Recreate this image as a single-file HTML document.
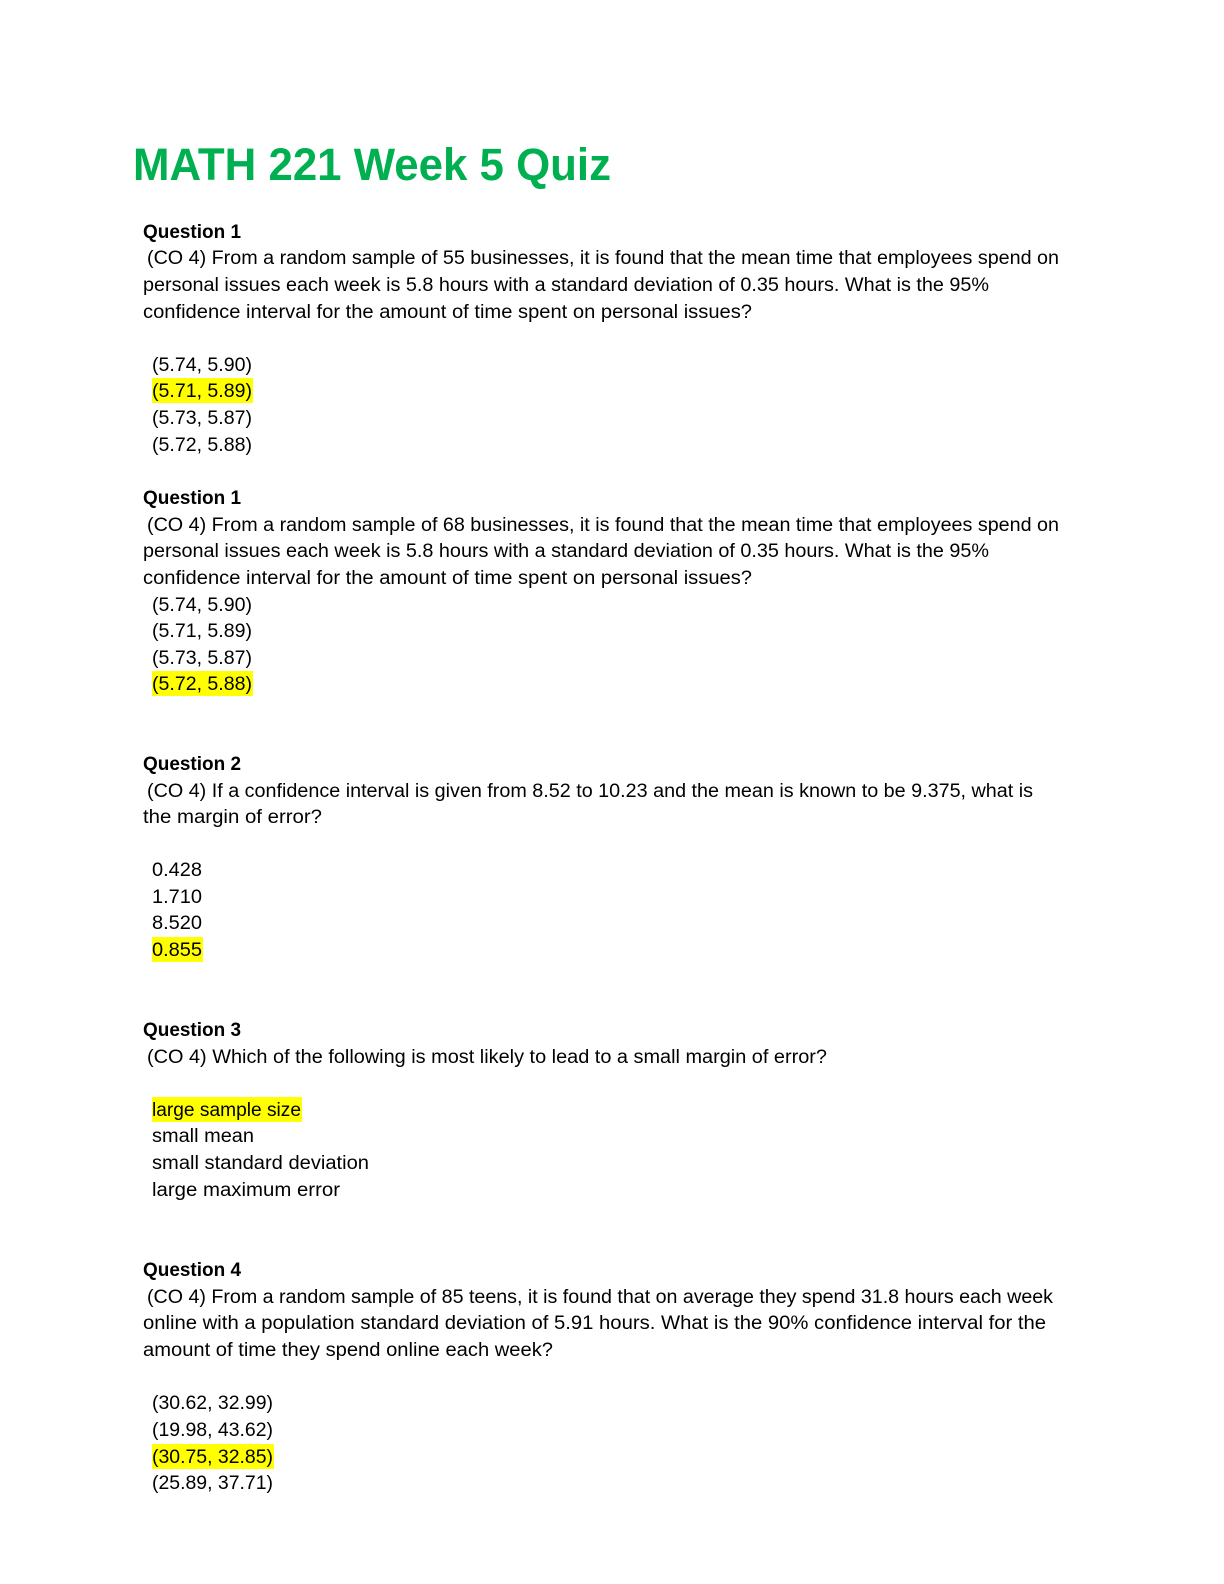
<!DOCTYPE html>
<html><head><meta charset="utf-8"><style>
html,body{margin:0;padding:0;background:#fff;}
svg{display:block;}
text{font-family:"Liberation Sans",sans-serif;font-size:19px;fill:#000;}
.b{font-weight:bold;}
.t{font-size:45px;font-weight:bold;fill:#00b050;}
.h{fill:#ffff00;}
</style></head><body>
<svg width="1224" height="1584" viewBox="0 0 1224 1584" xmlns="http://www.w3.org/2000/svg">
<text class="t" x="133" y="180" textLength="478" lengthAdjust="spacingAndGlyphs">MATH 221 Week 5 Quiz</text>

<rect class="h" x="152" y="378" width="101" height="25"/>
<rect class="h" x="152" y="671" width="101" height="25"/>
<rect class="h" x="152" y="937" width="51" height="25"/>
<rect class="h" x="152" y="1097" width="150" height="25"/>
<rect class="h" x="152" y="1444" width="122" height="25"/>

<text class="b" x="143" y="238" textLength="98" lengthAdjust="spacingAndGlyphs">Question 1</text>
<text x="147" y="264" textLength="912" lengthAdjust="spacingAndGlyphs">(CO 4) From a random sample of 55 businesses, it is found that the mean time that employees spend on</text>
<text x="143" y="291" textLength="846" lengthAdjust="spacingAndGlyphs">personal issues each week is 5.8 hours with a standard deviation of 0.35 hours. What is the 95%</text>
<text x="143" y="318" textLength="609" lengthAdjust="spacingAndGlyphs">confidence interval for the amount of time spent on personal issues?</text>
<text x="152" y="371" textLength="100" lengthAdjust="spacingAndGlyphs">(5.74, 5.90)</text>
<text x="152" y="397" textLength="100" lengthAdjust="spacingAndGlyphs">(5.71, 5.89)</text>
<text x="152" y="424" textLength="100" lengthAdjust="spacingAndGlyphs">(5.73, 5.87)</text>
<text x="152" y="451" textLength="100" lengthAdjust="spacingAndGlyphs">(5.72, 5.88)</text>

<text class="b" x="143" y="504" textLength="98" lengthAdjust="spacingAndGlyphs">Question 1</text>
<text x="147" y="531" textLength="912" lengthAdjust="spacingAndGlyphs">(CO 4) From a random sample of 68 businesses, it is found that the mean time that employees spend on</text>
<text x="143" y="557" textLength="846" lengthAdjust="spacingAndGlyphs">personal issues each week is 5.8 hours with a standard deviation of 0.35 hours. What is the 95%</text>
<text x="143" y="584" textLength="609" lengthAdjust="spacingAndGlyphs">confidence interval for the amount of time spent on personal issues?</text>
<text x="152" y="611" textLength="100" lengthAdjust="spacingAndGlyphs">(5.74, 5.90)</text>
<text x="152" y="637" textLength="100" lengthAdjust="spacingAndGlyphs">(5.71, 5.89)</text>
<text x="152" y="664" textLength="100" lengthAdjust="spacingAndGlyphs">(5.73, 5.87)</text>
<text x="152" y="690" textLength="100" lengthAdjust="spacingAndGlyphs">(5.72, 5.88)</text>

<text class="b" x="143" y="770" textLength="98" lengthAdjust="spacingAndGlyphs">Question 2</text>
<text x="147" y="797" textLength="886" lengthAdjust="spacingAndGlyphs">(CO 4) If a confidence interval is given from 8.52 to 10.23 and the mean is known to be 9.375, what is</text>
<text x="143" y="823" textLength="179" lengthAdjust="spacingAndGlyphs">the margin of error?</text>
<text x="152" y="876" textLength="50" lengthAdjust="spacingAndGlyphs">0.428</text>
<text x="152" y="903" textLength="50" lengthAdjust="spacingAndGlyphs">1.710</text>
<text x="152" y="929" textLength="50" lengthAdjust="spacingAndGlyphs">8.520</text>
<text x="152" y="956" textLength="50" lengthAdjust="spacingAndGlyphs">0.855</text>

<text class="b" x="143" y="1036" textLength="98" lengthAdjust="spacingAndGlyphs">Question 3</text>
<text x="147" y="1063" textLength="680" lengthAdjust="spacingAndGlyphs">(CO 4) Which of the following is most likely to lead to a small margin of error?</text>
<text x="152" y="1116" textLength="149" lengthAdjust="spacingAndGlyphs">large sample size</text>
<text x="152" y="1142" textLength="102" lengthAdjust="spacingAndGlyphs">small mean</text>
<text x="152" y="1169" textLength="217" lengthAdjust="spacingAndGlyphs">small standard deviation</text>
<text x="152" y="1196" textLength="188" lengthAdjust="spacingAndGlyphs">large maximum error</text>

<text class="b" x="143" y="1276" textLength="98" lengthAdjust="spacingAndGlyphs">Question 4</text>
<text x="147" y="1303" textLength="906" lengthAdjust="spacingAndGlyphs">(CO 4) From a random sample of 85 teens, it is found that on average they spend 31.8 hours each week</text>
<text x="143" y="1329" textLength="903" lengthAdjust="spacingAndGlyphs">online with a population standard deviation of 5.91 hours. What is the 90% confidence interval for the</text>
<text x="143" y="1356" textLength="410" lengthAdjust="spacingAndGlyphs">amount of time they spend online each week?</text>
<text x="152" y="1409" textLength="121" lengthAdjust="spacingAndGlyphs">(30.62, 32.99)</text>
<text x="152" y="1436" textLength="121" lengthAdjust="spacingAndGlyphs">(19.98, 43.62)</text>
<text x="152" y="1463" textLength="121" lengthAdjust="spacingAndGlyphs">(30.75, 32.85)</text>
<text x="152" y="1489" textLength="121" lengthAdjust="spacingAndGlyphs">(25.89, 37.71)</text>
</svg>
</body></html>
